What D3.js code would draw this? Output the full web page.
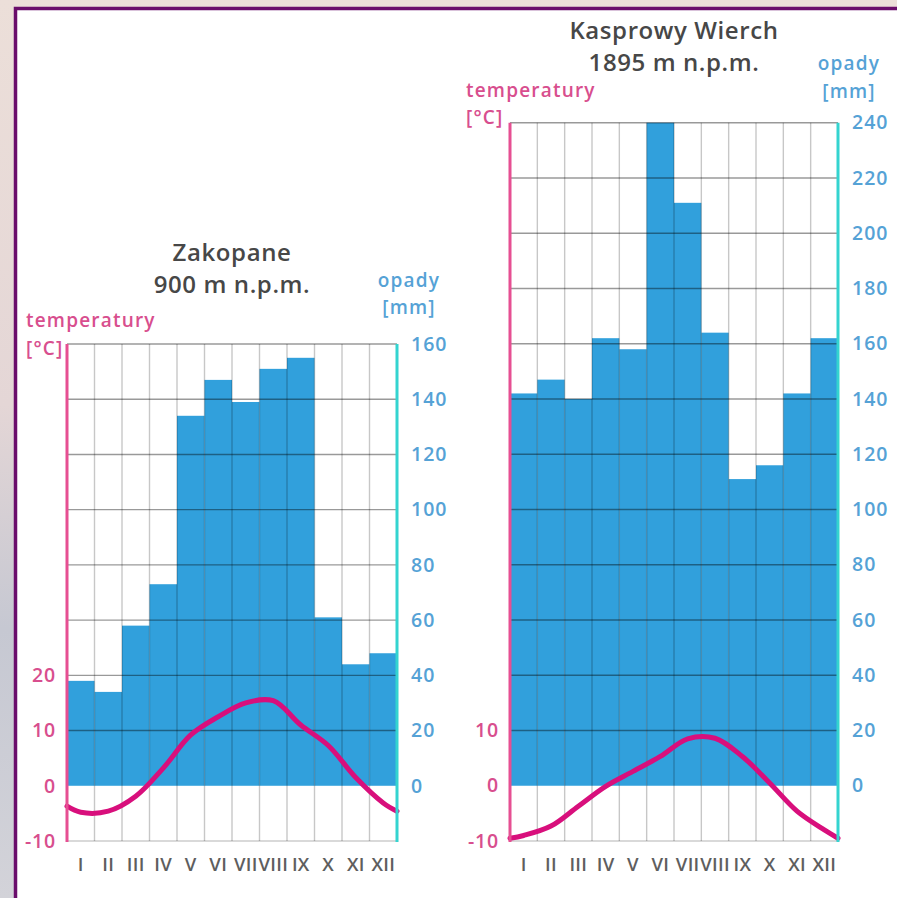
<!DOCTYPE html>
<html>
<head>
<meta charset="utf-8">
<script src="https://cdn.jsdelivr.net/npm/d3@7"></script>
<style>
  html, body { margin: 0; background: #fff; overflow: hidden; }
  svg { display: block; font-family: "Open Sans", sans-serif; }
</style>
</head>
<body>
<svg id="chart" width="897" height="898"></svg>
<script>
var months = ["I", "II", "III", "IV", "V", "VI", "VII", "VIII", "IX", "X", "XI", "XII"];

// Zakopane, 900 m n.p.m.
var zakPrecip = [38, 34, 58, 73, 134, 147, 139, 151, 155, 61, 44, 48];
var zakTemp = [-4.8, -4.6, -1.9, 3.2, 9.2, 12.5, 15.0, 15.4, 11.0, 7.3, 1.5, -3.1];
var zakTempEdges = [-3.7, -4.6];
var zakPrecipTicks = [0, 20, 40, 60, 80, 100, 120, 140, 160];
var zakTempTicks = [-10, 0, 10, 20];

// Kasprowy Wierch, 1895 m n.p.m.
var kwPrecip = [142, 147, 140, 162, 158, 240, 211, 164, 111, 116, 142, 162];
var kwTemp = [-9.0, -7.3, -3.7, -0.1, 2.6, 5.3, 8.5, 8.6, 5.3, 0.5, -4.6, -8.0];
var kwTempEdges = [-9.5, -9.5];
var kwPrecipTicks = [0, 20, 40, 60, 80, 100, 120, 140, 160, 180, 200, 220, 240];
var kwTempTicks = [-10, 0, 10];

var svg = d3.select("#chart");
var bottom = 841;

// blurred photo behind the card, roughly
var grad = svg.append("defs").append("linearGradient")
    .attr("id", "bg")
    .attr("x1", 0).attr("y1", 0).attr("x2", 0).attr("y2", 1);
grad.append("stop").attr("offset", "0%").attr("stop-color", "#ecdfd9");
grad.append("stop").attr("offset", "45%").attr("stop-color", "#e4d6d6");
grad.append("stop").attr("offset", "70%").attr("stop-color", "#c6c8d2");
grad.append("stop").attr("offset", "100%").attr("stop-color", "#d3d3d9");

svg.append("rect")
    .attr("width", 897)
    .attr("height", 898)
    .attr("fill", "url(#bg)");

// card: only its left and top edges are in view
svg.append("rect")
    .attr("x", 17)
    .attr("y", 10)
    .attr("width", 897)
    .attr("height", 898)
    .attr("fill", "#fff");

svg.append("path")
    .attr("d", "M15.5,898V8.5H897")
    .attr("fill", "none")
    .attr("stroke", "#6a0d6b")
    .attr("stroke-width", 3.5);

function drawClimate(cfg) {
  var g = svg.append("g");

  var x = d3.scaleBand()
            .domain(months)
            .range([cfg.left, cfg.right]);

  var yP = d3.scaleLinear()
             .domain([-20, cfg.pMax])
             .range([bottom, cfg.top]);

  // 10 degrees per 20 mm
  var yT = d3.scaleLinear()
             .domain([-10, cfg.pMax / 2])
             .range([bottom, cfg.top]);

  g.selectAll(".bar")
    .data(cfg.precip)
    .enter()
    .append("rect")
      .classed("bar", true)
      .attr("x", (d, i) => x(months[i]))
      .attr("y", d => yP(Math.min(d, cfg.pMax)))
      .attr("width", x.bandwidth())
      .attr("height", d => yP(0) - yP(Math.min(d, cfg.pMax)))
      .attr("fill", "#31a0dc");

  // grid on top of the bars
  g.selectAll(".vgrid")
    .data(months.slice(1))
    .enter()
    .append("line")
      .attr("x1", d => x(d))
      .attr("x2", d => x(d))
      .attr("y1", cfg.top)
      .attr("y2", bottom)
      .attr("stroke", "#000")
      .attr("stroke-opacity", 0.22)
      .attr("stroke-width", 1.4);

  g.selectAll(".hgrid")
    .data(cfg.pTicks.filter(v => v > 0).concat([-20]))
    .enter()
    .append("line")
      .attr("x1", cfg.left)
      .attr("x2", cfg.right)
      .attr("y1", d => yP(d))
      .attr("y2", d => yP(d))
      .attr("stroke", "#000")
      .attr("stroke-opacity", d => d < 0 ? 0.2 : 0.4)
      .attr("stroke-width", 1.4);

  // temperature curve
  var pts = [{ x: cfg.left, t: cfg.tempEdges[0] }]
    .concat(cfg.temp.map((t, i) => ({ x: x(months[i]) + x.bandwidth() / 2, t: t })))
    .concat([{ x: cfg.right, t: cfg.tempEdges[1] }]);

  var line = d3.line()
               .x(d => d.x)
               .y(d => yT(d.t))
               .curve(d3.curveCatmullRom.alpha(0.5));

  g.append("path")
      .datum(pts)
      .attr("d", line)
      .attr("fill", "none")
      .attr("stroke", "#d80f7c")
      .attr("stroke-width", 5)
      .attr("stroke-linecap", "round");

  // side axes
  g.append("line")
      .attr("x1", cfg.left).attr("x2", cfg.left)
      .attr("y1", cfg.top).attr("y2", bottom + 1)
      .attr("stroke", "#e64f92")
      .attr("stroke-width", 3);

  g.append("line")
      .attr("x1", cfg.right).attr("x2", cfg.right)
      .attr("y1", cfg.top).attr("y2", bottom + 1)
      .attr("stroke", "#34d4d0")
      .attr("stroke-width", 3);

  var tAxis = g.append("g")
      .attr("transform", "translate(" + (cfg.left - 11) + ",0)")
      .call(d3.axisLeft(yT).tickValues(cfg.tTicks).tickSize(0).tickPadding(0)
              .tickFormat(d => String(d)));
  tAxis.select(".domain").remove();
  tAxis.selectAll("text")
      .attr("fill", "#d84e8e")
      .attr("font-size", 19.5)
      .attr("font-weight", 600)
      .attr("letter-spacing", 0.8)
      .attr("font-family", "Open Sans");

  var pAxis = g.append("g")
      .attr("transform", "translate(" + (cfg.right + 14) + ",0)")
      .call(d3.axisRight(yP).tickValues(cfg.pTicks).tickSize(0).tickPadding(0));
  pAxis.select(".domain").remove();
  pAxis.selectAll("text")
      .attr("fill", "#55a2d6")
      .attr("font-size", 19.5)
      .attr("font-weight", 600)
      .attr("letter-spacing", 1)
      .attr("font-family", "Open Sans");

  var mAxis = g.append("g")
      .attr("transform", "translate(0," + bottom + ")")
      .call(d3.axisBottom(x).tickSize(0).tickPadding(17));
  mAxis.select(".domain").remove();
  mAxis.selectAll("text")
      .attr("fill", "#5e5e5e")
      .attr("font-size", 18.5)
      .attr("font-weight", 600)
      .attr("letter-spacing", 0.3)
      .attr("font-family", "Open Sans");

  // titles and axis names
  var cx = (cfg.left + cfg.right) / 2;
  cfg.title.forEach((s, i) => {
    g.append("text")
        .attr("x", cx)
        .attr("y", cfg.titleY[i])
        .attr("text-anchor", "middle")
        .attr("fill", "#474747")
        .attr("font-size", 24)
        .attr("font-weight", 600)
        .attr("letter-spacing", 0.6)
        .text(s);
  });

  ["temperatury", "[\u00b0C]"].forEach((s, i) => {
    g.append("text")
        .attr("x", cfg.tLabelX)
        .attr("y", cfg.tLabelY[i])
        .attr("fill", "#d84e8e")
        .attr("font-size", 19)
        .attr("font-weight", 600)
        .attr("letter-spacing", 1.2)
        .text(s);
  });

  ["opady", "[mm]"].forEach((s, i) => {
    g.append("text")
        .attr("x", cfg.pLabelX)
        .attr("y", cfg.pLabelY[i])
        .attr("text-anchor", "middle")
        .attr("fill", "#55a2d6")
        .attr("font-size", 19)
        .attr("font-weight", 600)
        .attr("letter-spacing", 1.2)
        .text(s);
  });
}

drawClimate({
  left: 67, right: 397, top: 344, pMax: 160,
  precip: zakPrecip, temp: zakTemp, tempEdges: zakTempEdges,
  pTicks: zakPrecipTicks, tTicks: zakTempTicks,
  title: ["Zakopane", "900 m n.p.m."], titleY: [261, 293],
  tLabelX: 26, tLabelY: [327, 355],
  pLabelX: 409, pLabelY: [287, 314]
});

drawClimate({
  left: 510, right: 838, top: 122.7, pMax: 240,
  precip: kwPrecip, temp: kwTemp, tempEdges: kwTempEdges,
  pTicks: kwPrecipTicks, tTicks: kwTempTicks,
  title: ["Kasprowy Wierch", "1895 m n.p.m."], titleY: [39, 71],
  tLabelX: 466, tLabelY: [97, 124],
  pLabelX: 849, pLabelY: [70, 98]
});
</script>
</body>
</html>
